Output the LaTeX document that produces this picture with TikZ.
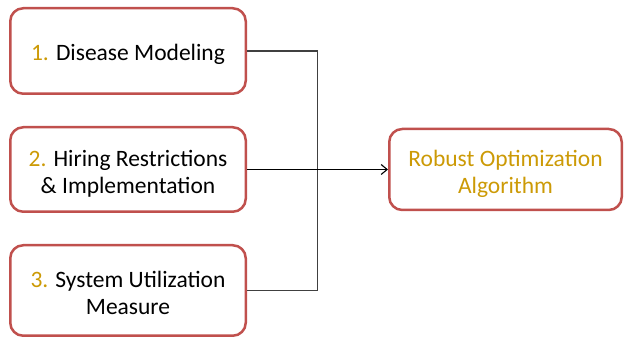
\documentclass[tikz,border=0pt]{standalone}
\usepackage{fontspec}
\setmainfont{Carlito}
\usepackage{tikz}
\usetikzlibrary{arrows.meta, positioning, calc}
\definecolor{boxred}{RGB}{192,80,77}
\definecolor{numgold}{RGB}{204,154,6}
\newcommand{\topstrut}[1]{\rule{0pt}{#1}}

\begin{document}
\begin{tikzpicture}[x=1pt, y=-1pt,
  stage/.style={rectangle, draw=boxred, line width=2.5pt, rounded corners=13pt, minimum width=235.5pt, align=center, font=\fontsize{23.5}{27}\selectfont},
  link/.style={draw=black!75, line width=1.1pt},
  arr/.style={-{Straight Barb[length=6pt, width=10pt]}, line width=1.1pt},
]
\useasboundingbox (0,0) rectangle (625,339);
% Inputs
\node[stage, minimum height=85.5pt] (model) at (128,51) {\topstrut{24pt}\textcolor{numgold}{1.} Disease Modeling};
\node[stage, minimum height=84.5pt, below=31pt of model] (hire) {\topstrut{25pt}\textcolor{numgold}{2.} Hiring Restrictions\\\& Implementation};
\node[stage, minimum height=90.5pt, below=31pt of hire] (util) {\topstrut{21pt}\textcolor{numgold}{3.} System Utilization\\Measure};
% Output
\node[stage, minimum width=232.5pt, minimum height=81pt, text=numgold, right=141pt of hire] (algo) {\topstrut{25pt}Robust Optimization\\Algorithm};
\coordinate (join) at ($(hire.east)!0.5!(algo.west)$);

% Connectors
\draw[link] (model.east) -| (join);
\draw[link] (util.east) -| (join);
\draw[arr] (hire.east) -- (algo.west);
\end{tikzpicture}
\end{document}
